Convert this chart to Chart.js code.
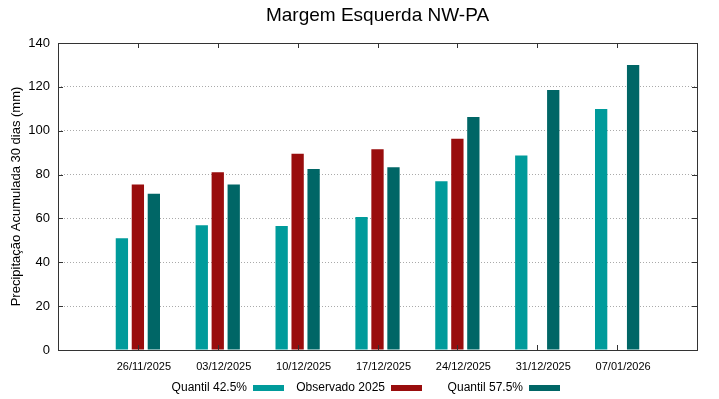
<!DOCTYPE html>
<html>
<head>
<meta charset="utf-8">
<script src="https://cdn.jsdelivr.net/npm/chart.js@4.4.1/dist/chart.umd.min.js"></script>
<style>
  html, body { margin: 0; padding: 0; background: #fff; }
  #wrap { width: 719px; height: 399px; position: relative; }
</style>
</head>
<body>
<div id="wrap"><canvas id="chuva"></canvas></div>
<script>
// Weekly dates (x axis)
const dates = ['26/11/2025', '03/12/2025', '10/12/2025', '17/12/2025', '24/12/2025', '31/12/2025', '07/01/2026'];

// 30-day accumulated precipitation (mm)
const quantil425 = [51.0, 56.9, 56.6, 60.6, 77.0, 88.7, 109.9];
const observado2025 = [75.5, 81.1, 89.5, 91.6, 96.3, null, null];
const quantil575 = [71.2, 75.5, 82.5, 83.3, 106.2, 118.6, 130.0];

const yTicks = [0, 20, 40, 60, 80, 100, 120, 140];

const FONT = "'Liberation Sans', Arial, sans-serif";

// empty slot on each side so the groups sit where the original puts them
const pad = arr => [null, ...arr, null];
const labels = ['', ...dates, ''];

// gnuplot-like frame, inward ticks, title and legend (text before the swatch)
const framePlugin = {
    id: 'frame',
    afterDraw(chart) {
        const { ctx, chartArea: a, scales } = chart;
        ctx.save();
        ctx.strokeStyle = '#333';
        ctx.lineWidth = 1;
        ctx.strokeRect(a.left + 0.5, a.top + 0.5, a.right - a.left, a.bottom - a.top);

        ctx.beginPath();
        yTicks.forEach(v => {
            const y = Math.round(scales.y.getPixelForValue(v)) + 0.5;
            ctx.moveTo(a.left, y); ctx.lineTo(a.left + 5, y);
            ctx.moveTo(a.right, y); ctx.lineTo(a.right - 5, y);
        });
        dates.forEach((d, i) => {
            const x = Math.round(scales.x.getPixelForValue(i + 1)) + 0.5;
            ctx.moveTo(x, a.bottom); ctx.lineTo(x, a.bottom - 5);
            ctx.moveTo(x, a.top); ctx.lineTo(x, a.top + 5);
        });
        ctx.stroke();

        // title centred on the plot area
        ctx.fillStyle = '#000';
        ctx.font = '19px ' + FONT;
        ctx.textAlign = 'center';
        ctx.textBaseline = 'middle';
        ctx.fillText('Margem Esquerda NW-PA', (a.left + a.right) / 2, 16);

        // legend
        ctx.font = '12px ' + FONT;
        ctx.textAlign = 'right';
        chart.data.datasets.forEach((ds, i) => {
            const sx = 253 + 138 * i;
            ctx.fillStyle = '#000';
            ctx.fillText(ds.label, sx - 6, 388);
            ctx.fillStyle = ds.backgroundColor;
            ctx.fillRect(sx, 385, 31, 6);
        });
        ctx.restore();
    }
};

new Chart(document.getElementById('chuva'), {
    type: 'bar',
    data: {
        labels: labels,
        datasets: [
            { label: 'Quantil 42.5%', data: pad(quantil425), backgroundColor: '#009b9b' },
            { label: 'Observado 2025', data: pad(observado2025), backgroundColor: '#990d0d' },
            { label: 'Quantil 57.5%', data: pad(quantil575), backgroundColor: '#006666' }
        ]
    },
    options: {
        responsive: true,
        maintainAspectRatio: false,
        animation: false,
        categoryPercentage: 0.6,
        barPercentage: 0.77,
        layout: { padding: { top: 43, right: 22, left: 0, bottom: 0 } },
        plugins: {
            legend: { display: false },
            title: { display: false },
            tooltip: { enabled: false }
        },
        scales: {
            x: {
                offset: false,
                grid: { display: false, drawTicks: false },
                border: { display: false },
                ticks: {
                    color: '#000',
                    font: { family: FONT, size: 11 },
                    autoSkip: false,
                    maxRotation: 0,
                    padding: 10,
                    labelOffset: 6
                },
                afterFit: s => { s.height = 49; }
            },
            y: {
                min: 0,
                max: 140,
                afterBuildTicks: s => { s.ticks = yTicks.map(v => ({ value: v })); },
                grid: { color: '#aaa', lineWidth: 1, drawTicks: false },
                border: { display: false, dash: [1, 2] },
                ticks: {
                    color: '#000',
                    font: { family: FONT, size: 13 },
                    padding: 8
                },
                title: {
                    display: true,
                    text: 'Precipitação Acumulada 30 dias (mm)',
                    color: '#000',
                    font: { family: FONT, size: 13 },
                    padding: { top: 9, bottom: 0 }
                },
                afterFit: s => { s.width = 58; }
            }
        }
    },
    plugins: [framePlugin]
});
</script>
</body>
</html>
